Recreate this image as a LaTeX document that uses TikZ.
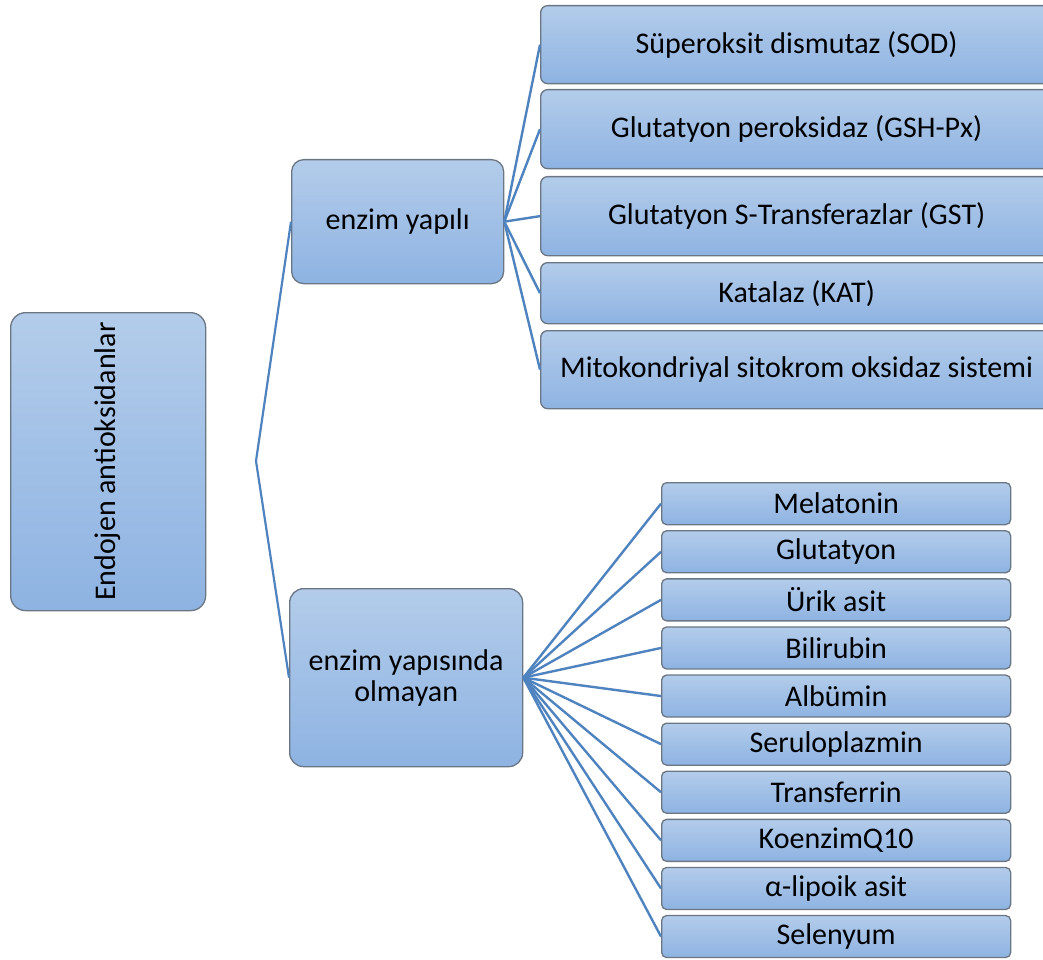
\documentclass[tikz,border=0pt]{standalone}
\usepackage{fontspec}
\setmainfont{Carlito}
\begin{document}
\begin{tikzpicture}[x=1pt,y=-1pt,
  box/.style={draw=boxline, line width=1.3pt, top color=boxtop, bottom color=boxbot,
    anchor=north west, inner sep=0pt, align=center,
    font=\fontsize{30}{32}\selectfont},
  conn/.style={draw=connline, line width=2.4pt},
  thin/.style={draw=connline, line width=2.2pt}]
\definecolor{boxtop}{HTML}{B3CCEA}
\definecolor{boxbot}{HTML}{8EB3E2}
\definecolor{boxline}{HTML}{6A7684}
\definecolor{connline}{HTML}{4F83BF}
\useasboundingbox (0,0) rectangle (1043,960);
\clip (0,0) rectangle (1043,960);
% root
\node[box, rounded corners=15pt, minimum width=195pt, minimum height=298pt] (root) at (10,312) {\rotatebox{90}{Endojen antioksidanlar}};
% level 1
\node[box, rounded corners=12pt, minimum width=212pt, minimum height=124pt] (enz) at (291,159) {enzim yapılı};
\node[box, rounded corners=14pt, minimum width=233pt, minimum height=178pt, font=\fontsize{30}{31}\selectfont] (non) at (289,588) {enzim yapısında\\olmayan};
% top group
\begin{scope}[every node/.append style={box, rounded corners=7pt, minimum width=512pt}]
\node[minimum height=78pt] (t1) at (540,5) {Süperoksit dismutaz (SOD)};
\node[minimum height=79pt] (t2) at (540,89) {Glutatyon peroksidaz (GSH-Px)};
\node[minimum height=79pt] (t3) at (540,176) {Glutatyon S-Transferazlar (GST)};
\node[minimum height=61pt] (t4) at (540,262) {Katalaz (KAT)};
\node[minimum height=78pt] (t5) at (540,330) {Mitokondriyal sitokrom oksidaz sistemi};
\end{scope}
% bottom group
\begin{scope}[every node/.append style={box, rounded corners=5pt, minimum width=349pt, minimum height=42pt}]
\node (b1) at (661,482.0) {Melatonin};
\node (b2) at (661,530.1) {Glutatyon};
\node (b3) at (661,578.2) {Ürik asit};
\node (b4) at (661,626.3) {Bilirubin};
\node (b5) at (661,674.4) {Albümin};
\node (b6) at (661,722.5) {Seruloplazmin};
\node (b7) at (661,770.6) {Transferrin};
\node (b8) at (661,818.7) {KoenzimQ10};
\node (b9) at (661,866.8) {α-lipoik asit};
\node (b10) at (661,914.9) {Selenyum};
\end{scope}
% connectors
\coordinate (elbow) at (256,461);
\draw[thin] (enz.west) -- (elbow) -- (non.west);
\foreach \t in {t1,t2,t3,t4,t5} \draw[conn] (enz.east) -- (\t.west);
\foreach \b in {b1,b2,b3,b4,b5,b6,b7,b8,b9,b10} \draw[conn] (non.east) -- (\b.west);
\end{tikzpicture}
\end{document}
